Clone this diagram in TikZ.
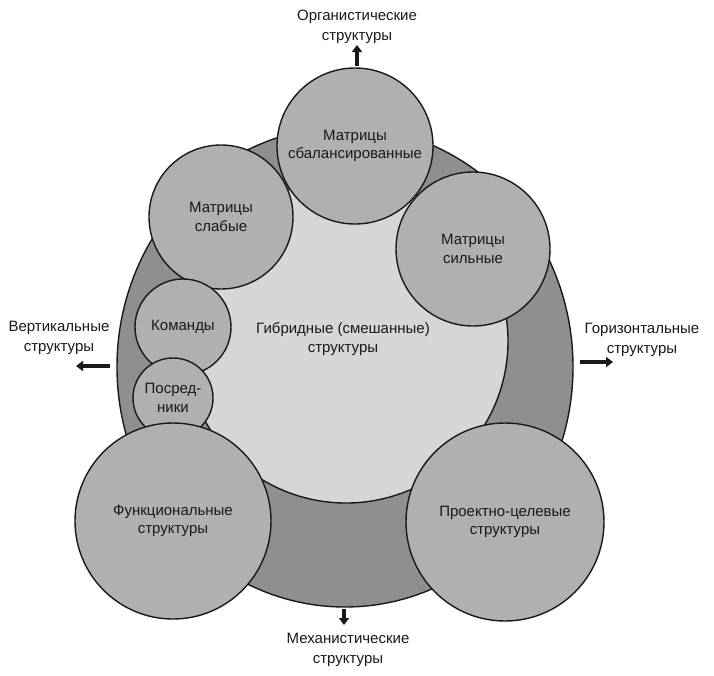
\documentclass[tikz,border=0pt]{standalone}
\usepackage{fontspec}
\setmainfont{Liberation Sans}
\usetikzlibrary{shapes.geometric,arrows.meta}
\definecolor{ringgray}{gray}{0.56}
\definecolor{innergray}{gray}{0.84}
\definecolor{ballgray}{gray}{0.69}
\definecolor{inkgray}{gray}{0.10}
\tikzset{
  ball/.style={circle, draw=inkgray, line width=1.4pt, fill=ballgray, inner sep=0pt,
    align=center, font=\fontsize{15}{18.5}\selectfont, text=inkgray},
  lbl/.style={align=center, font=\fontsize{15}{19.5}\selectfont, text=inkgray, inner sep=0pt},
  outarrow/.style={line width=3.5pt, draw=inkgray, -{Triangle[length=7pt,width=10pt]}}
}
\begin{document}
\begin{tikzpicture}[x=1pt,y=-1pt]
\useasboundingbox (0,0) rectangle (714,675);
% outer ring and inner area
\node[ellipse, draw=inkgray, line width=1.4pt, fill=ringgray, minimum width=456pt, minimum height=480pt, inner sep=0pt] (ring) at (345,367) {};
\node[circle, draw=inkgray, line width=1.4pt, fill=innergray, minimum size=324pt, inner sep=0pt] (hybrid) at (346,341) {};
\node[lbl] (hybridtext) at (343,339) {Гибридные (смешанные)\\структуры};
% small circles
\node[ball, minimum size=144pt] (weak) at (221,217) {Матрицы\\слабые};
\node[ball, minimum size=156pt] (balanced) at (355,146) {Матрицы\\сбалансированные};
\node[ball, minimum size=154pt] (strong) at (473,249) {Матрицы\\сильные};
\node[ball, minimum size=96pt] (teams) at (183,327) {Команды};
\node[ball, minimum size=80pt] (mediators) at (173,398) {Посред-\\ники};
\node[ball, minimum size=196pt] (functional) at (173,521) {Функциональные\\структуры};
\node[ball, minimum size=198pt] (project) at (505,522) {Проектно-целевые\\структуры};
% outer labels
\node[lbl] (organic) at (357,27) {Органистические\\структуры};
\node[lbl] (mechanic) at (348,650) {Механистические\\структуры};
\node[lbl] (vertical) at (59,338) {Вертикальные\\структуры};
\node[lbl] (horizontal) at (642,340) {Горизонтальные\\структуры};
% arrow coordinates
\coordinate (topA) at (357,66);
\coordinate (topB) at (357,45);
\coordinate (botA) at (344,609);
\coordinate (botB) at (344,625);
\coordinate (leftA) at (110,366);
\coordinate (leftB) at (76,366);
\coordinate (rightA) at (580,362);
\coordinate (rightB) at (613,362);
\draw[outarrow] (topA) -- (topB);
\draw[outarrow] (botA) -- (botB);
\draw[outarrow] (leftA) -- (leftB);
\draw[outarrow] (rightA) -- (rightB);
\end{tikzpicture}
\end{document}
